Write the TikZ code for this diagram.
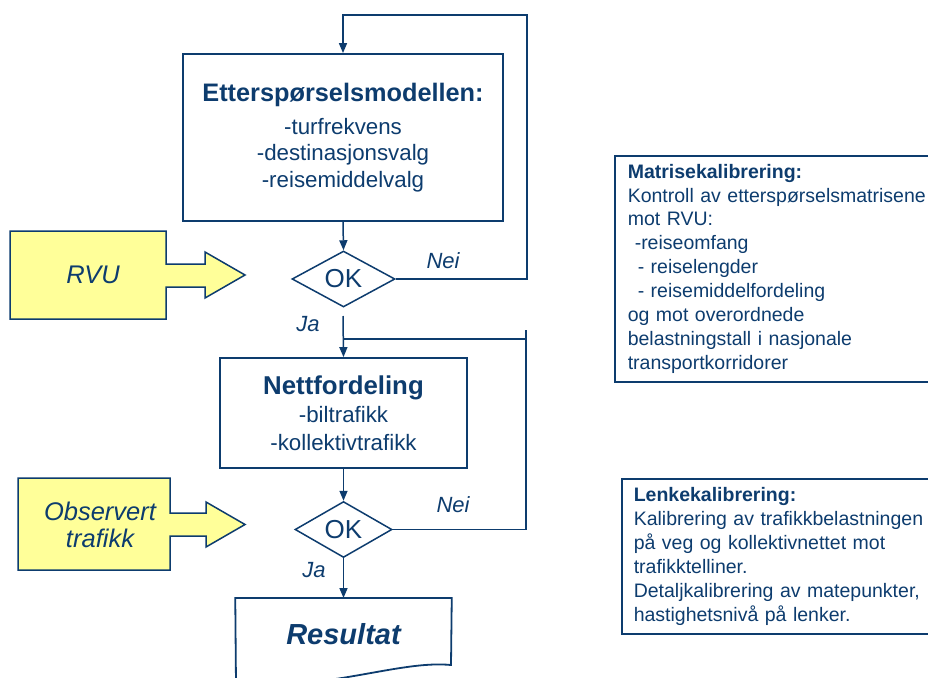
\documentclass[tikz,border=0pt]{standalone}
\usepackage{fontspec}
\setmainfont{Liberation Sans}
\usepackage{xcolor}
\usetikzlibrary{positioning,shapes.geometric,arrows.meta,calc}
\definecolor{navy}{HTML}{0D3C6E}
\definecolor{inputyellow}{HTML}{FFFF99}
\tikzset{
  flowbox/.style={draw, rectangle, fill=white, align=center, inner sep=0pt, line width=1.8pt},
  okdiamond/.style={draw, diamond, fill=white, inner sep=0pt, font=\fontsize{26}{30}\selectfont},
  notebox/.style={draw, rectangle, anchor=north west, align=left, inner xsep=13pt, text width=300pt,
    font=\fontsize{19.5}{23.9}\selectfont},
  answer/.style={font=\fontsize{22}{26}\selectfont\itshape},
  inputtext/.style={align=center, font=\fontsize{25.5}{30}\selectfont\itshape}
}

\begin{document}
\begin{tikzpicture}[x=1pt,y=-1pt,>={Triangle[length=10pt,width=8pt]},line width=1.5pt,color=navy]

    \useasboundingbox (0,0) rectangle (928,677);
    \clip (0,0) rectangle (928,677);

    \node[flowbox, minimum width=320, minimum height=167, font=\fontsize{22.3}{26.5}\selectfont] (model) at (343,137.5)
    {{\fontsize{25.3}{26.5}\selectfont\bfseries Etterspørselsmodellen:}\\[6pt]
     -turfrekvens\\ -destinasjonsvalg\\ -reisemiddelvalg};

    \node[okdiamond, minimum width=103, minimum height=52] (ok1) at (343.5,279) {OK};

    \node[flowbox, minimum width=247, minimum height=110, font=\fontsize{22.3}{28}\selectfont] (nett) at (343.5,413)
    {{\fontsize{25.8}{28}\selectfont\bfseries Nettfordeling}\\
     -biltrafikk\\ -kollektivtrafikk};

    \node[okdiamond, minimum width=97, minimum height=45] (ok2) at (343.5,529.5) {OK};

    \node[inner sep=0pt, minimum width=215, minimum height=70, anchor=north,
      font=\fontsize{29}{32}\selectfont\bfseries\itshape] (res) at (343.5,598) {Resultat};
    \draw[fill=white, line width=1.8pt] (res.north west) -- (res.north east) -- (451,665)
      .. controls (400,660) and (330,690) .. (236,685) -- cycle;
    \node[inner sep=0pt, font=\fontsize{29}{32}\selectfont\bfseries\itshape] at (res) {Resultat};

    \draw[fill=inputyellow] (10,231) -- (166,231) -- (166,264) -- (205,264) -- (205,252) -- (245,275)
      -- (205,298) -- (205,287) -- (166,287) -- (166,319) -- (10,319) -- cycle;
    \node[inputtext] (rvu) at (93,275) {RVU};

    \draw[fill=inputyellow] (18,478) -- (170,478) -- (170,513) -- (206,513) -- (206,502) -- (245,524.5)
      -- (206,547) -- (206,536) -- (170,536) -- (170,570) -- (18,570) -- cycle;
    \node[inputtext, font=\fontsize{25.5}{27}\selectfont\itshape] (obs) at (100,525) {Observert\\ trafikk};

    \node[notebox, minimum height=226] (matrise) at (614,155)
    {\textbf{Matrisekalibrering:}\\
     Kontroll av etterspørselsmatrisene\\
     mot RVU:\\
     \hspace*{7pt}-reiseomfang\\
     \hspace*{10pt}- reiselengder\\
     \hspace*{10pt}- reisemiddelfordeling\\
     og mot overordnede\\
     belastningstall i nasjonale\\
     transportkorridorer};

    \node[notebox, inner xsep=12pt, minimum height=155] (lenke) at (621,478)
    {\textbf{Lenkekalibrering:}\\
     Kalibrering av trafikkbelastningen\\
     på veg og kollektivnettet mot\\
     trafikktelliner.\\
     Detaljkalibrering av matepunkter,\\
     hastighetsnivå på lenker.};

    \node[answer] (nei1) at (443,261) {Nei};
    \node[answer] (ja1) at (308,324) {Ja};
    \node[answer] (nei2) at (453,505) {Nei};
    \node[answer] (ja2) at (314,570) {Ja};

    \coordinate (top1) at (343,15);
    \coordinate (right1) at (527,15);
    \coordinate (start2) at (343,316);
    \coordinate (join2) at (343,339);
    \coordinate (right2) at (526,330);

    \draw[->] (ok1.east) -| (right1) -- (top1) -- (model.north);
    \draw[->] (model.south) -- (ok1.north);
    \draw[->] (start2) -- (nett.north);
    \draw[] (join2) -- (join2 -| right2);
    \draw[] (ok2.east) -| (right2);
    \draw[->] (nett.south) -- (ok2.north);
    \draw[->] (ok2.south) -- (res.north);
  \end{tikzpicture}
\end{document}
